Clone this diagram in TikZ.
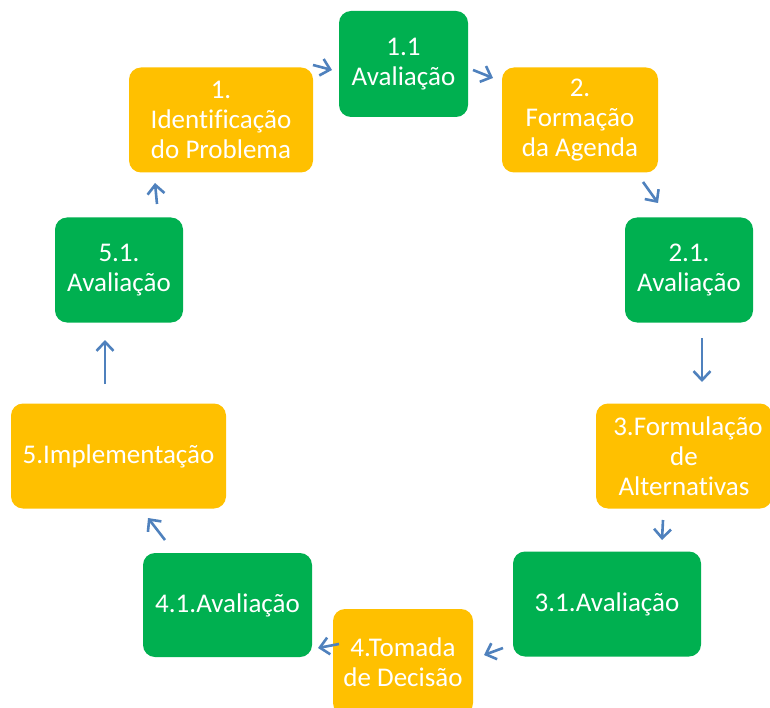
\documentclass[tikz,border=0pt]{standalone}
\usepackage{fontspec}
\setmainfont{Carlito}[Ligatures=NoCommon]
\usetikzlibrary{arrows.meta}
\definecolor{boxgreen}{HTML}{00B050}
\definecolor{boxorange}{HTML}{FFC000}
\definecolor{arrowblue}{HTML}{4F81BD}
\tikzset{
  stagebox/.style={fill=boxorange, draw=none, rounded corners=12pt, text=white,
    align=center, inner sep=0pt, font=\fontsize{27}{30}\selectfont},
  evalbox/.style={stagebox, fill=boxgreen},
  flowarrow/.style={draw=arrowblue, line width=2.6pt,
    -{Straight Barb[length=9pt,width=17pt,line width=2.6pt]}}
}
\begin{document}
\begin{tikzpicture}[x=1pt,y=-1pt]
\useasboundingbox (0,0) rectangle (770,708);
% boxes
\node[stagebox, minimum width=184pt, minimum height=105pt] (n1) at (221,120) {1.\\Identificação\\do Problema};
\node[evalbox, minimum width=129pt, minimum height=106pt] (n11) at (403.5,64) {1.1\\Avaliação};
\node[stagebox, minimum width=156pt, minimum height=105pt] (n2) at (580,120) {2.\\Formação\\da Agenda};
\node[evalbox, minimum width=128pt, minimum height=105pt] (n21) at (689,270) {2.1.\\Avaliação};
\node[stagebox, minimum width=176pt, minimum height=105pt] (n3) at (684,456) {\hspace*{8pt}3.Formulação\\de\\Alternativas};
\node[evalbox, minimum width=188pt, minimum height=105pt] (n31) at (607,604) {3.1.Avaliação};
\node[stagebox, minimum width=140pt, minimum height=106pt] (n4) at (403,662) {4.Tomada\\de Decisão};
\node[evalbox, minimum width=169pt, minimum height=104pt] (n41) at (227.5,605) {4.1.Avaliação};
\node[stagebox, minimum width=215pt, minimum height=105pt] (n5) at (118.5,456) {5.Implementação};
\node[evalbox, minimum width=128pt, minimum height=105pt] (n51) at (119,270) {5.1.\\Avaliação};
% arrow end points
\coordinate (a1s) at (313,65);  \coordinate (a1e) at (332,70);
\coordinate (a2s) at (473,70);  \coordinate (a2e) at (493,78);
\coordinate (a3s) at (643,182); \coordinate (a3e) at (658,203);
\coordinate (a4s) at (702,338); \coordinate (a4e) at (702,382);
\coordinate (a5s) at (663,520); \coordinate (a5e) at (662,540);
\coordinate (a6s) at (503,648); \coordinate (a6e) at (484,655);
\coordinate (a7s) at (339,644); \coordinate (a7e) at (318,648);
\coordinate (a8s) at (165,540); \coordinate (a8e) at (148,518);
\coordinate (a9s) at (105,384); \coordinate (a9e) at (105,340);
\coordinate (a10s) at (157,204); \coordinate (a10e) at (155,183);
\foreach \i in {1,...,10} {
  \draw[flowarrow] (a\i s) -- (a\i e);
}
\end{tikzpicture}
\end{document}
